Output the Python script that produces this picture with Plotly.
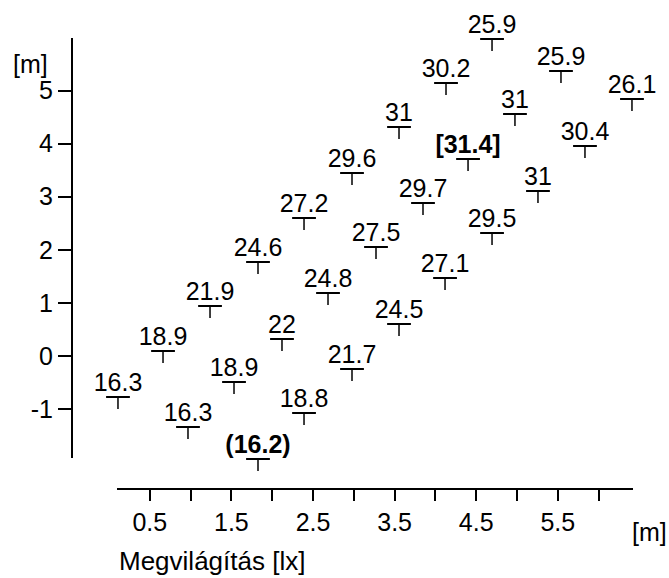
import plotly.graph_objects as go

# measured illuminance values, three diagonal rows of nine points
lux = [16.3, 18.9, 21.9, 24.6, 27.2, 29.6, 31, 30.2, 25.9,
       16.3, 18.9, 22, 24.8, 27.5, 29.7, 31.4, 31, 25.9,
       16.2, 18.8, 21.7, 24.5, 27.1, 29.5, 31, 30.4, 26.1]

# point positions [m]
pos_x = [0.110, 0.662, 1.238, 1.826, 2.390, 2.978, 3.554, 4.130, 4.694,
         0.968, 1.532, 2.120, 2.684, 3.272, 3.848, 4.400, 4.975, 5.539,
         1.826, 2.390, 2.978, 3.554, 4.118, 4.694, 5.257, 5.833, 6.409]
pos_y = [-0.772, 0.094, 0.942, 1.770, 2.599, 3.446, 4.313, 5.141, 5.970,
         -1.337, -0.490, 0.320, 1.186, 2.053, 2.881, 3.710, 4.557, 5.367,
         -1.940, -1.073, -0.245, 0.603, 1.469, 2.316, 3.107, 3.955, 4.840]

x_ticks = [0.5, 1, 1.5, 2, 2.5, 3, 3.5, 4, 4.5, 5, 5.5, 6]
x_tick_text = ["0.5", "", "1.5", "", "2.5", "", "3.5", "", "4.5", "", "5.5", ""]
y_ticks = [-1, 0, 1, 2, 3, 4, 5]
y_tick_text = ["-1", "0", "1", "2", "3", "4", "5"]

FONT = "Liberation Sans, Arial, sans-serif"
W, H = 669, 578


def px(x):   # screen x -> paper
    return x / W


def py(y):   # screen y -> paper
    return 1 - y / H


# max in brackets, min in parentheses, both bold
labels = []
for v in lux:
    s = f"{v:g}"
    if v == max(lux):
        s = f"<b>[{s}]</b>"
    elif v == min(lux):
        s = f"<b>({s})</b>"
    labels.append(s)

fig = go.Figure()

# horizontal bar with a short stem below it
fig.add_trace(go.Scatter(
    x=pos_x, y=pos_y, mode="markers",
    marker=dict(symbol="line-ew", size=17, line=dict(width=2, color="black")),
    error_y=dict(type="constant", symmetric=False, value=0, valueminus=0.226,
                 width=0, thickness=1.5, color="black"),
    hoverinfo="skip", showlegend=False, cliponaxis=False,
))
fig.add_trace(go.Scatter(
    x=pos_x, y=pos_y, mode="text", text=labels, textposition="top center",
    textfont=dict(family=FONT, size=25, color="black"),
    hoverinfo="skip", showlegend=False, cliponaxis=False,
))
# carries the visible axes
fig.add_trace(go.Scatter(x=[], y=[], xaxis="x2", yaxis="y2",
                         hoverinfo="skip", showlegend=False))

x0, sx = 109, 81.6   # screen x of 0 m, pixels per metre
y0, sy = 356, 53.1


def xr(a, b):
    return [(a - x0) / sx, (b - x0) / sx]


def yr(a, b):
    return [(y0 - b) / sy, (y0 - a) / sy]


fig.update_layout(
    width=W, height=H,
    margin=dict(l=0, r=0, t=0, b=0),
    paper_bgcolor="white", plot_bgcolor="rgba(0,0,0,0)",
    font=dict(family=FONT, size=25, color="black"),
    xaxis=dict(visible=False, domain=[0, 1], range=xr(0, W)),
    yaxis=dict(visible=False, domain=[0, 1], range=yr(0, H)),
    xaxis2=dict(domain=[px(117), px(633)], anchor="free", position=py(489),
                range=xr(117, 633),
                tickvals=x_ticks, ticktext=x_tick_text,
                ticks="outside", ticklen=11, tickwidth=2, tickcolor="black",
                showline=True, linewidth=2, linecolor="black",
                showgrid=False, zeroline=False),
    yaxis2=dict(domain=[py(458), py(38)], anchor="free", position=px(72),
                range=yr(38, 458),
                tickvals=y_ticks, ticktext=y_tick_text,
                ticks="outside", ticklen=13, tickwidth=2, tickcolor="black",
                showline=True, linewidth=2, linecolor="black",
                showgrid=False, zeroline=False),
    annotations=[
        dict(text="[m]", x=px(30), y=py(64), xref="paper", yref="paper",
             xanchor="center", yanchor="middle", showarrow=False),
        dict(text="[m]", x=px(649), y=py(532), xref="paper", yref="paper",
             xanchor="center", yanchor="middle", showarrow=False),
        dict(text="Megvilágítás [lx]", x=px(117), y=py(561),
             xref="paper", yref="paper", xanchor="left", yanchor="middle",
             showarrow=False, font=dict(size=26)),
    ],
)

fig.write_html("out.html", config={"displayModeBar": False},
               post_script="document.body.style.margin='0';")
